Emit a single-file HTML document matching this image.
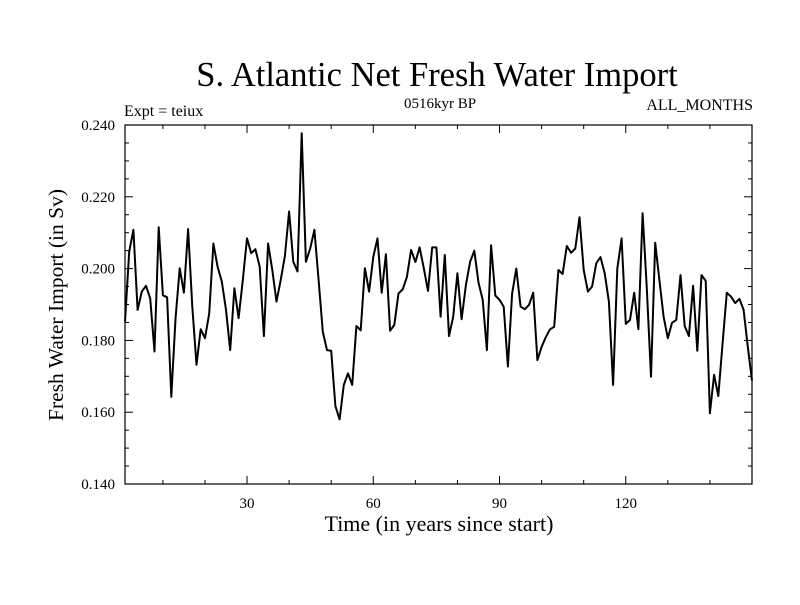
<!DOCTYPE html>
<html><head><meta charset="utf-8"><style>
body{margin:0;background:#fff;}
svg text{font-family:"Liberation Serif",serif;fill:#000;}
</style></head><body>
<svg id="chart" width="800" height="600">
<rect width="800" height="600" fill="#fff"/>
<text x="437" y="86" font-size="34.5" text-anchor="middle">S. Atlantic Net Fresh Water Import</text>
<text x="124" y="116" font-size="16">Expt = teiux</text>
<text x="440" y="108" font-size="15" text-anchor="middle">0516kyr BP</text>
<text x="753" y="110" font-size="16" text-anchor="end">ALL_MONTHS</text>
<text x="439" y="531" font-size="22" text-anchor="middle">Time (in years since start)</text>
<text x="0" y="0" font-size="21.5" text-anchor="middle" transform="translate(63,305) rotate(-90)">Fresh Water Import (in Sv)</text>
<g id="axes"></g>
<path id="series" fill="none" stroke="#000" stroke-width="2" stroke-linejoin="round"/>
<rect x="125" y="125" width="627" height="359" fill="none" stroke="#000" stroke-width="1.2"/>
</svg>
<script>
const values = [0.1852,0.2047,0.2108,0.1885,0.1936,0.1952,0.1917,0.1769,0.2115,0.1926,0.1920,0.1643,0.1860,0.2001,0.1933,0.2110,0.1894,0.1732,0.1831,0.1806,0.1875,0.2070,0.2005,0.1964,0.1885,0.1773,0.1945,0.1862,0.1968,0.2084,0.2043,0.2054,0.2005,0.1812,0.2070,0.1996,0.1908,0.1968,
0.2035,0.2159,0.2019,0.1992,0.2377,0.2019,0.2056,0.2108,0.1968,0.1824,0.1773,0.1771,0.1617,0.1580,0.1676,0.1708,0.1676,0.1840,0.1828,0.2001,0.1936,0.2033,0.2084,0.1933,0.2040,0.1827,0.1843,0.1931,0.1942,0.1977,0.2052,0.2018,0.2059,0.2001,0.1938,0.2059,0.2059,0.1866,
0.2038,0.1812,0.1866,0.1987,0.1859,0.1954,0.2019,0.2050,0.1961,0.1913,0.1773,0.2065,0.1925,0.1913,0.1894,0.1727,0.1930,0.2000,0.1894,0.1887,0.1899,0.1933,0.1745,0.1782,0.1809,0.1831,0.1838,0.1996,0.1985,0.2063,0.2044,0.2056,0.2143,0.1996,0.1936,0.1950,0.2015,0.2032,
0.1987,0.1908,0.1676,0.2000,0.2084,0.1846,0.1857,0.1933,0.1831,0.2154,0.1945,0.1699,0.2072,0.1968,0.1866,0.1806,0.1849,0.1857,0.1982,0.1840,0.1812,0.1952,0.1771,0.1982,0.1966,0.1597,0.1704,0.1645,0.1789,0.1933,0.1922,0.1904,0.1916,0.1885,0.1782,0.1688];
const xTickLabels = [30,60,90,120];
const yTickLabels = [0.140,0.160,0.180,0.200,0.220,0.240];
const X0=125,X1=752,Y0=484,Y1=125;
const xMin=1,xMax=150,yMin=0.14,yMax=0.24;
const sx=v=>X0+(v-xMin)/(xMax-xMin)*(X1-X0);
const sy=v=>Y0-(v-yMin)/(yMax-yMin)*(Y0-Y1);
const NS='http://www.w3.org/2000/svg';
const axes=document.getElementById('axes');
function line(x1,y1,x2,y2){const l=document.createElementNS(NS,'line');l.setAttribute('x1',x1);l.setAttribute('y1',y1);l.setAttribute('x2',x2);l.setAttribute('y2',y2);l.setAttribute('stroke','#000');l.setAttribute('stroke-width','1');


axes.appendChild(l);}
for(let t=10;t<=150;t+=10){const x=sx(t);const L=(t%30===0)?8:4;line(x,Y0,x,Y0-L);line(x,Y1,x,Y1+L);}
for(let k=0;k<=20;k++){const v=yMin+k*0.005;const y=sy(v);const L=(k%4===0)?8:4;line(X0,y,X0+L,y);line(X1,y,X1-L,y);}
xTickLabels.forEach(t=>{const e=document.createElementNS(NS,'text');e.setAttribute('x',sx(t));e.setAttribute('y',508);e.setAttribute('font-size','15');e.setAttribute('text-anchor','middle');e.textContent=t;


axes.appendChild(e);});
yTickLabels.forEach(v=>{const e=document.createElementNS(NS,'text');e.setAttribute('x',115);e.setAttribute('y',sy(v)+5);e.setAttribute('font-size','15');e.setAttribute('text-anchor','end');e.textContent=v.toFixed(3);


axes.appendChild(e);});
document.getElementById('series').setAttribute('d',values.map((v,i)=>(i?'L':'M')+sx(i+1).toFixed(1)+','+sy(v).toFixed(1)).join(''));
</script>
</body></html>
